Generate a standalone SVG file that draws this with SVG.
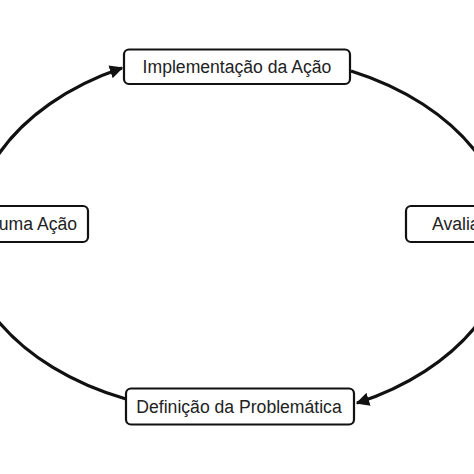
<svg xmlns="http://www.w3.org/2000/svg" width="474" height="474" viewBox="0 0 474 474">
<style>
.box{fill:#fff;stroke:#111;stroke-width:2.2}
.lbl{font-family:"Liberation Sans",Arial,sans-serif;font-size:17.6px;fill:#222}
.arc{fill:none;stroke:#111;stroke-width:3.2}
</style>
<defs>
<marker id="ah" viewBox="0 0 10 10" refX="9" refY="5" markerWidth="4.2" markerHeight="4.2" orient="auto" markerUnits="strokeWidth">
<path d="M0,0 L10,5 L0,10 z" fill="#111"/>
</marker>
</defs>
<rect width="474" height="474" fill="#fff"/>
<g id="connectors">
<path class="arc" d="M -2 155 A 265 186 0 0 1 122 68" marker-end="url(#ah)"/>
<path class="arc" d="M 351 71 A 265 186 0 0 1 476 152"/>
<path class="arc" d="M 476 326 A 265 186 0 0 1 357 403" marker-end="url(#ah)"/>
<path class="arc" d="M -2 321 A 265 186 0 0 0 126 399"/>
</g>
<g id="implementacao">
<rect class="box" x="124" y="49.5" width="226" height="34.5" rx="5"/>
<text class="lbl" x="237" y="73" text-anchor="middle">Implementação da Ação</text>
</g>
<g id="escolha">
<rect class="box" x="-20" y="206" width="108" height="36" rx="5"/>
<text class="lbl" x="77" y="230" text-anchor="end">uma Ação</text>
</g>
<g id="avaliacao">
<rect class="box" x="406" y="206" width="90" height="36" rx="5"/>
<text class="lbl" x="432" y="230">Avalia</text>
</g>
<g id="definicao">
<rect class="box" x="126" y="388.5" width="228" height="36" rx="5"/>
<text class="lbl" x="239" y="413" text-anchor="middle">Definição da Problemática</text>
</g>
</svg>
